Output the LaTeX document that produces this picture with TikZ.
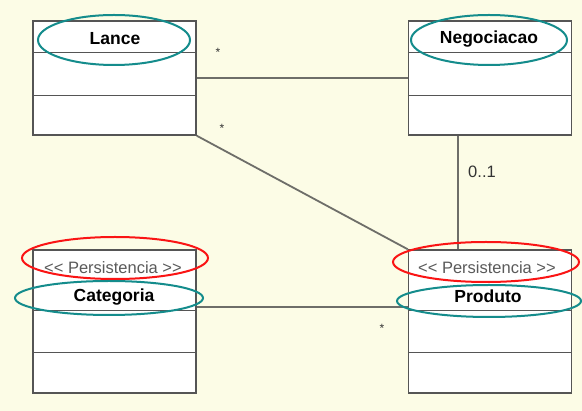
\documentclass[tikz,border=0pt]{standalone}
\usepackage{fontspec}
\setmainfont{Liberation Sans}
\usetikzlibrary{calc}

\definecolor{paper}{RGB}{252,252,230}
\definecolor{boxgray}{RGB}{85,85,85}
\definecolor{linkgray}{RGB}{110,110,105}
\definecolor{ovalteal}{RGB}{20,140,140}
\definecolor{ovalred}{RGB}{250,20,20}
\definecolor{stereogray}{RGB}{90,90,90}

\tikzset{
  classbox/.style={draw=boxgray, fill=white, line width=1.4pt, minimum width=163pt, inner sep=0pt},
  compline/.style={draw=boxgray, line width=1.2pt},
  link/.style={draw=linkgray, line width=1.8pt},
  tealoval/.style={draw=ovalteal, line width=2pt},
  redoval/.style={draw=ovalred, line width=2pt},
  classname/.style={font=\fontsize{17.5}{19}\selectfont\bfseries, inner sep=0pt},
  stereo/.style={font=\fontsize{16.5}{19}\selectfont, text=stereogray, inner sep=0pt},
  mult/.style={font=\fontsize{16.5}{19}\selectfont, text=black!80, inner sep=0pt},
  star/.style={font=\fontsize{12}{13}\selectfont, text=black!80, inner sep=0pt}
}

\begin{document}
\begin{tikzpicture}[x=1pt,y=-1pt]
    % Background
    \fill[paper] (0,0) rectangle (582,411);
    \useasboundingbox (0,0) rectangle (582,411);
    % Classes
    \node[classbox, minimum height=114pt] (lance) at (114.5, 78) {};
    \node[classbox, minimum height=114pt] (nego) at (490, 78) {};
    \node[classbox, minimum height=143pt] (cat) at (114.5, 321.5) {};
    \node[classbox, minimum height=143pt] (prod) at (490, 321.5) {};
    % Compartments
    \draw[compline] ([yshift=-32pt]lance.north west) -- ([yshift=-32pt]lance.north east);
    \draw[compline] ([yshift=40pt]lance.south west) -- ([yshift=40pt]lance.south east);
    \draw[compline] ([yshift=-32pt]nego.north west) -- ([yshift=-32pt]nego.north east);
    \draw[compline] ([yshift=40pt]nego.south west) -- ([yshift=40pt]nego.south east);
    \draw[compline] ([yshift=-61pt]cat.north west) -- ([yshift=-61pt]cat.north east);
    \draw[compline] ([yshift=41pt]cat.south west) -- ([yshift=41pt]cat.south east);
    \draw[compline] ([yshift=-61pt]prod.north west) -- ([yshift=-61pt]prod.north east);
    \draw[compline] ([yshift=41pt]prod.south west) -- ([yshift=41pt]prod.south east);
    % Associations
    \draw[link] (lance.east) -- (nego.west);
    \draw[link] (lance.south east) -- (prod.north west);
    \draw[link] ([xshift=-32pt]nego.south) -- ([xshift=-32pt]prod.north);
    \draw[link] ([yshift=14.5pt]cat.east) -- ([yshift=14.5pt]prod.west);
    % Highlight ovals
    \draw[tealoval] (114, 40) ellipse (76 and 25);
    \draw[tealoval] (489, 40) ellipse (78 and 25);
    \draw[redoval] (115, 258) ellipse (93 and 21);
    \draw[tealoval] (109, 298) ellipse (94 and 17);
    \draw[redoval] (486, 262) ellipse (93 and 20);
    \draw[tealoval] (489, 301) ellipse (92 and 16);
    % Texts
    \node[classname] (lanceName) at (115, 39) {Lance};
    \node[classname] (negoName) at (489, 39) {Negociacao};
    \node[stereo] (catStereo) at (113, 268) {{<}{<} Persistencia {>}{>}};
    \node[classname] (catName) at (114, 297) {Categoria};
    \node[stereo] (prodStereo) at (487, 268) {{<}{<} Persistencia {>}{>}};
    \node[classname] (prodName) at (488, 296) {Produto};
    % Multiplicities
    \node[star] (starA) at (218, 52) {*};
    \node[star] (starB) at (222, 128) {*};
    \node[star] (starC) at (382, 328) {*};
    \node[mult] (zeroOne) at (482, 172) {0..1};
\end{tikzpicture}
\end{document}
